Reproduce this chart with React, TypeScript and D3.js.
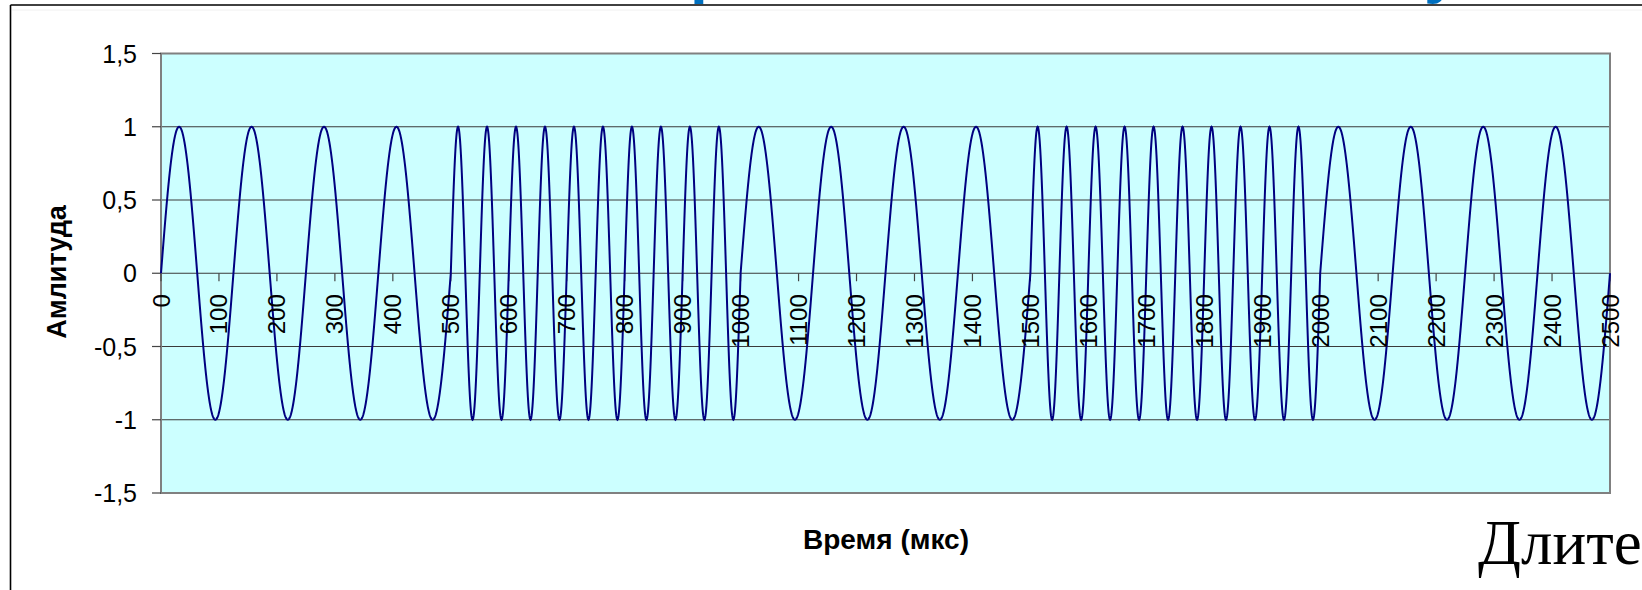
import React from "react";
import * as d3 from "d3";

// ---- data ----
// FSK signal: each bit lasts 500 µs; bit 0 -> 8 kHz, bit 1 -> 20 kHz
const bits = [0, 1, 0, 1, 0];
const bitDurationUs = 500;
const frequencyKHzByBit = [8, 20];
const sampleStepUs = 0.5;

const xTickValues = [
  0, 100, 200, 300, 400, 500, 600, 700, 800, 900, 1000, 1100, 1200, 1300,
  1400, 1500, 1600, 1700, 1800, 1900, 2000, 2100, 2200, 2300, 2400, 2500,
];
const yTickValues = [-1.5, -1, -0.5, 0, 0.5, 1, 1.5];
const gridValues = [-1, -0.5, 0, 0.5, 1];

const W = 1642;
const H = 590;

function buildSignal() {
  const pts: [number, number][] = [];
  let phase = 0;
  const total = bits.length * bitDurationUs;
  for (let t = 0; t <= total + 1e-9; t += sampleStepUs) {
    pts.push([t, Math.sin(phase)]);
    const idx = Math.min(bits.length - 1, Math.floor(t / bitDurationUs));
    const fMHz = frequencyKHzByBit[bits[idx]] / 1000; // cycles per µs
    phase += 2 * Math.PI * fMHz * sampleStepUs;
  }
  return pts;
}

export default function App() {
  const x = d3.scaleLinear().domain([0, 2500]).range([161, 1610]);
  const y = d3.scaleLinear().domain([-1.5, 1.5]).range([493, 53.5]);
  const signal = buildSignal();
  const line = d3
    .line<[number, number]>()
    .x((d) => x(d[0]))
    .y((d) => y(d[1]));
  const fmt = (v: number) => String(v).replace(".", ",");
  const font = "Arial, 'Liberation Sans', sans-serif";

  return (
    <svg
      width={W}
      height={H}
      style={{ position: "absolute", left: 0, top: 0, background: "#fff" }}
    >
      {/* clipped slide title fragments */}
      <text x={690} y={-9} fill="#0070c0" fontFamily={font} fontWeight="bold" fontSize={64}>р</text>
      <text x={1424} y={-9} fill="#0070c0" fontFamily={font} fontWeight="bold" fontSize={64}>у</text>

      {/* outer frame */}
      <line x1={10.5} x2={W} y1={5} y2={5} stroke="#000" strokeWidth={1.6} />
      <line x1={10.5} x2={10.5} y1={5} y2={H} stroke="#000" strokeWidth={1.6} />
      <line x1={12} x2={W} y1={10} y2={10} stroke="#f0f0f0" strokeWidth={1} />

      {/* plot area */}
      <rect
        x={x(0)}
        y={y(1.5)}
        width={x(2500) - x(0)}
        height={y(-1.5) - y(1.5)}
        fill="#ccffff"
      />
      {gridValues.map((v) => (
        <line
          key={"g" + v}
          x1={x(0)}
          x2={x(2500)}
          y1={y(v)}
          y2={y(v)}
          stroke="#3a3a3a"
          strokeWidth={1.2}
        />
      ))}
      <rect
        x={x(0)}
        y={y(1.5)}
        width={x(2500) - x(0)}
        height={y(-1.5) - y(1.5)}
        fill="none"
        stroke="#808080"
        strokeWidth={2}
      />

      {/* y axis ticks & labels */}
      {yTickValues.map((v) => (
        <g key={"y" + v}>
          <line x1={x(0) - 9} x2={x(0)} y1={y(v)} y2={y(v)} stroke="#444" strokeWidth={1.2} />
          <text
            x={137}
            y={y(v)}
            textAnchor="end"
            dominantBaseline="central"
            fontFamily={font}
            fontSize={25}
            fill="#000"
          >
            {fmt(v)}
          </text>
        </g>
      ))}

      {/* x axis ticks (on zero line) */}
      {xTickValues.map((v) => (
        <line
          key={"xt" + v}
          x1={x(v)}
          x2={x(v)}
          y1={y(0)}
          y2={y(0) + 8}
          stroke="#444"
          strokeWidth={1.2}
        />
      ))}

      {/* signal */}
      <path d={line(signal) || ""} fill="none" stroke="#000080" strokeWidth={2} />

      {/* x tick labels, rotated */}
      {xTickValues.map((v) => (
        <text
          key={"xl" + v}
          transform={`translate(${x(v)},${y(0) + 21}) rotate(-90)`}
          textAnchor="end"
          dominantBaseline="central"
          fontFamily={font}
          fontSize={24}
          fill="#000"
        >
          {v}
        </text>
      ))}

      {/* axis titles */}
      <text
        transform={`translate(57,272) rotate(-90)`}
        textAnchor="middle"
        dominantBaseline="central"
        fontFamily={font}
        fontWeight="bold"
        fontSize={27}
        fill="#000"
      >
        Амлитуда
      </text>
      <text
        x={886}
        y={549}
        textAnchor="middle"
        fontFamily={font}
        fontWeight="bold"
        fontSize={28}
        fill="#000"
      >
        Время (мкс)
      </text>

      {/* slide body text, cut by the right edge as in the reference */}
      <text
        x={1478}
        y={564}
        fontFamily="'Times New Roman', 'Liberation Serif', serif"
        fontSize={63}
        fill="#000"
      >
        Длите
      </text>
    </svg>
  );
}
